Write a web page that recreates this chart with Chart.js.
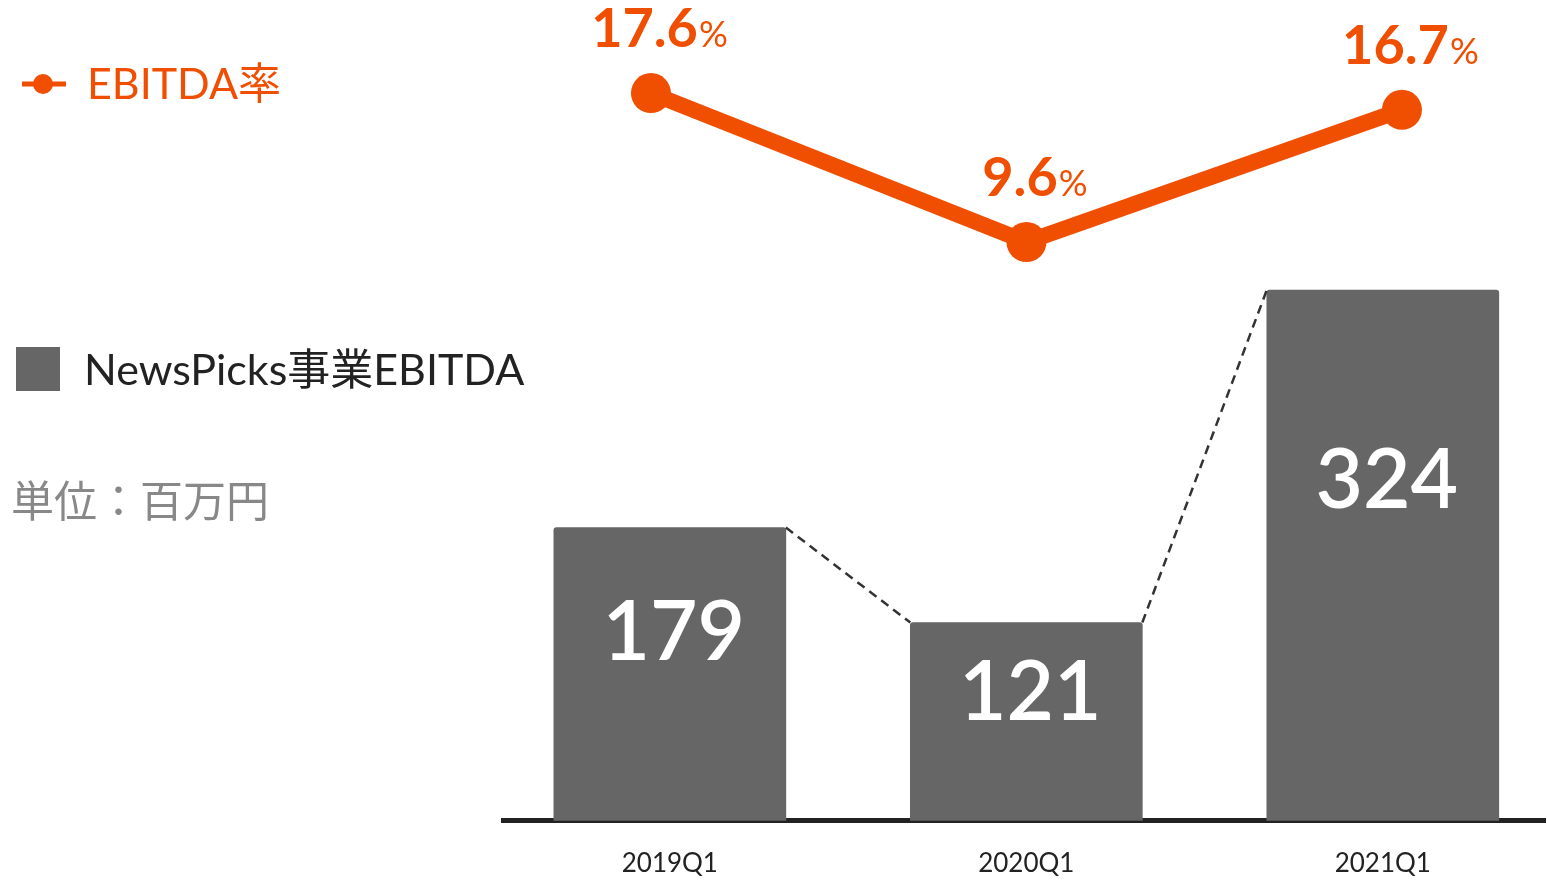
<!DOCTYPE html>
<html lang="ja">
  <head>
    <meta charset="UTF-8" />
    <title>NewsPicks事業EBITDA</title>
    <script src="https://cdn.jsdelivr.net/npm/chart.js@4.4.0/dist/chart.umd.min.js"></script>
    <style>
      body { margin: 0; width: 1547px; height: 880px; overflow: hidden; background: #fff;
             font-family: Lato, "Noto Sans CJK JP", sans-serif; }
      #chart { position: absolute; left: 0; top: 0; }
      .lbl { position: absolute; font-size: 43px; line-height: 1; white-space: nowrap; }
    </style>
  </head>
  <body>
    <canvas id="chart" width="1547" height="880"></canvas>

    <!-- legend / unit text -->
    <svg style="position:absolute;left:20px;top:72px" width="48" height="24">
      <line x1="2" y1="12" x2="46" y2="12" stroke="#F04E00" stroke-width="5" />
      <circle cx="23" cy="12" r="10" fill="#F04E00" />
    </svg>
    <div class="lbl" style="left:87px;top:61px;color:#F04E00">EBITDA率</div>
    <div style="position:absolute;left:16px;top:347px;width:44px;height:44px;background:#666"></div>
    <div class="lbl" style="left:84px;top:347px;color:#222">NewsPicks事業EBITDA</div>
    <div class="lbl" style="left:11px;top:479px;color:#888">単位：百万円</div>

    <script>
      // values
      const quarters = ["2019Q1", "2020Q1", "2021Q1"];
      const ebitda = [179, 121, 324]; // 百万円
      const ebitdaRate = [17.6, 9.6, 16.7]; // %

      const ORANGE = "#F04E00";

      // dashed lines between bar tops + value labels
      const annotate = {
        id: "annotate",
        afterDatasetsDraw(chart) {
          const ctx = chart.ctx;
          const bars = chart.getDatasetMeta(0).data;
          const pts = chart.getDatasetMeta(1).data;

          ctx.save();
          ctx.strokeStyle = "#333";
          ctx.lineWidth = 2.5;
          ctx.setLineDash([9, 6]);
          for (let i = 0; i < bars.length - 1; i++) {
            const a = bars[i], b = bars[i + 1];
            ctx.beginPath();
            ctx.moveTo(a.x + a.width / 2, a.y);
            ctx.lineTo(b.x - b.width / 2, b.y);
            ctx.stroke();
          }
          ctx.setLineDash([]);

          // numbers inside the bars
          ctx.fillStyle = "#fff";
          ctx.font = "600 82px Lato";
          ctx.textAlign = "center";
          ctx.textBaseline = "middle";
          bars.forEach((el, i) => {
            const y = el.y + (el.base - el.y) * 0.36;
            ctx.fillText(String(ebitda[i]), el.x + 4, y);
          });

          // percentages above the line points
          ctx.fillStyle = ORANGE;
          ctx.textBaseline = "alphabetic";
          ctx.textAlign = "left";
          pts.forEach((el, i) => {
            const num = ebitdaRate[i].toFixed(1);
            ctx.font = "bold 54px Lato";
            const w1 = ctx.measureText(num).width;
            ctx.font = "36px Lato";
            const w2 = ctx.measureText("%").width;
            const x0 = el.x + 8 - (w1 + w2) / 2;
            const y = el.y - 46;
            ctx.font = "bold 54px Lato";
            ctx.fillText(num, x0, y);
            ctx.font = "36px Lato";
            ctx.fillText("%", x0 + w1 + 1, y);
          });
          ctx.restore();
        },
      };

      const ctx = document.getElementById("chart").getContext("2d");
      new Chart(ctx, {
        data: {
          datasets: [
            {
              type: "bar",
              label: "NewsPicks事業EBITDA",
              data: ebitda.map((v, i) => ({ x: i, y: v })),
              backgroundColor: "#666666",
              barThickness: 232,
              grouped: false,
              borderRadius: 3,
              xAxisID: "x",
              yAxisID: "y",
            },
            {
              type: "line",
              label: "EBITDA率",
              data: ebitdaRate.map((v, i) => ({ x: i, y: v })),
              borderColor: ORANGE,
              backgroundColor: ORANGE,
              borderWidth: 16,
              pointRadius: 20,
              pointBorderWidth: 0,
              pointBackgroundColor: ORANGE,
              tension: 0,
              xAxisID: "x2",
              yAxisID: "y2",
            },
          ],
        },
        options: {
          responsive: false,
          animation: false,
          layout: { autoPadding: false, padding: { left: 503, right: 2, top: 0, bottom: -26 } },
          plugins: { legend: { display: false }, tooltip: { enabled: false } },
          scales: {
            x: {
              type: "linear",
              offset: false,
              min: -0.468,
              max: 2.455,
              z: 1,
              grid: { display: false, drawTicks: false, offset: false },
              border: { display: true, color: "#222", width: 5 },
              afterBuildTicks: (scale) => {
                scale.ticks = quarters.map((_, i) => ({ value: i }));
              },
              afterFit: (scale) => {
                scale.paddingLeft = 0;
                scale.paddingRight = 0;
              },
              ticks: {
                padding: 27,
                maxRotation: 0,
                color: "#222",
                font: { family: "Lato", size: 26 },
                callback: (v) => quarters[v] ?? "",
              },
            },
            x2: { type: "linear", display: false, offset: false, min: -0.394, max: 2.381 },
            y: { display: false, min: 0, max: 501 },
            y2: { display: false, min: -21.49, max: 22.6 },
          },
        },
        plugins: [annotate],
      });
    </script>
  </body>
</html>
